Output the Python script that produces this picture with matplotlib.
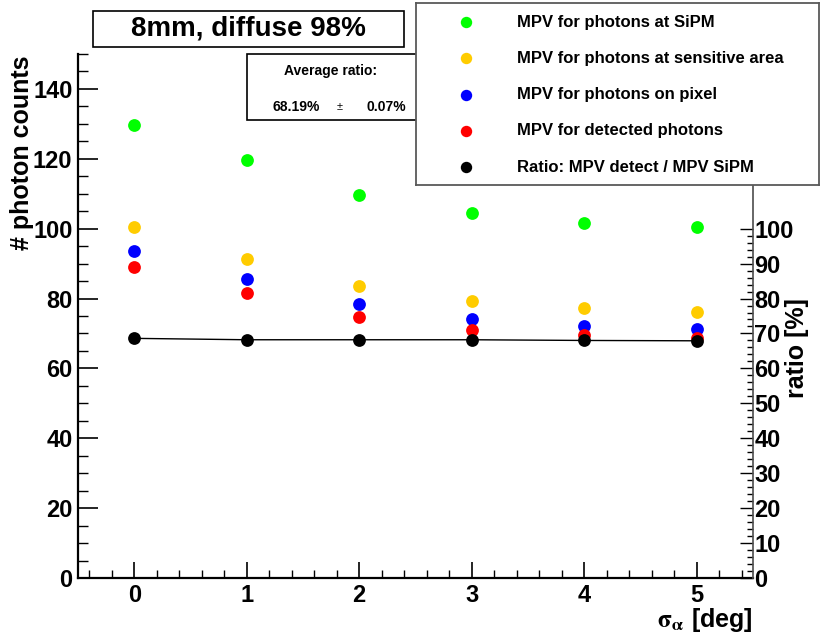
import numpy as np
import matplotlib
matplotlib.use('Agg')
import matplotlib.pyplot as plt
from matplotlib.patches import Rectangle
from matplotlib.ticker import MultipleLocator, FixedLocator

plt.rcParams['font.family'] = ['Liberation Sans', 'DejaVu Sans']
plt.rcParams['font.weight'] = 'bold'
plt.rcParams['mathtext.fontset'] = 'stix'

# data
sigma_alpha = [0, 1, 2, 3, 4, 5]
mpv_sipm = [129.7, 119.6, 109.6, 104.4, 101.7, 100.5]
mpv_sensitive = [100.4, 91.4, 83.7, 79.3, 77.2, 76.2]
mpv_pixel = [93.6, 85.6, 78.4, 74.1, 72.2, 71.3]
mpv_detected = [88.9, 81.6, 74.8, 71.1, 69.5, 68.6]
ratio = [68.6, 68.2, 68.2, 68.2, 68.0, 67.9]

series_labels = ['MPV for photons at SiPM',
                 'MPV for photons at sensitive area',
                 'MPV for photons on pixel',
                 'MPV for detected photons',
                 'Ratio: MPV detect / MPV SiPM']
series_colors = ['#00ff00', '#ffcc00', '#0000ff', '#ff0000', '#000000']

avg_ratio = 68.19
avg_ratio_err = 0.07

W, H = 829, 637


def fx(px):
    return px / W


def fy(py):
    return 1 - py / H


fig = plt.figure(figsize=(W / 100, H / 100), dpi=100)
ax = fig.add_axes([fx(78), fy(578), fx(753) - fx(78), fy(54) - fy(578)])

ms = 9.2
for vals, col in zip([mpv_sipm, mpv_sensitive, mpv_pixel, mpv_detected], series_colors[:4]):
    ax.plot(sigma_alpha, vals, 'o', color=col, markersize=ms, markeredgewidth=0, zorder=3)
ax.plot(sigma_alpha, ratio, '-', color='black', lw=1, zorder=3)
ax.plot(sigma_alpha, ratio, 'o', color='black', markersize=ms, markeredgewidth=0, zorder=4)

ax.set_xlim(-0.5, 5.5)
ax.set_ylim(0, 150)
ax.xaxis.set_major_locator(MultipleLocator(1))
ax.xaxis.set_minor_locator(FixedLocator(np.arange(-0.4, 5.45, 0.2)))
ax.yaxis.set_major_locator(MultipleLocator(20))
ax.yaxis.set_minor_locator(MultipleLocator(5))
ax.tick_params(axis='y', which='major', direction='in', length=14.4, width=1.2,
               labelsize=17, pad=4)
ax.tick_params(axis='y', which='minor', direction='in', length=7.2, width=1)
ax.tick_params(axis='x', which='major', direction='in', length=11.5, width=1.2,
               labelsize=17, pad=4)
ax.tick_params(axis='x', which='minor', direction='in', length=5.5, width=1)
ax.spines['top'].set_visible(False)
ax.spines['right'].set_visible(False)
ax.spines['left'].set_linewidth(1.6)
ax.spines['bottom'].set_linewidth(1.6)

# right axis for the ratio
ax2 = ax.twinx()
ax2.set_ylim(0, 150)
ax2.yaxis.set_major_locator(FixedLocator(np.arange(0, 101, 10)))
ax2.yaxis.set_minor_locator(FixedLocator(np.arange(0, 101, 2)))
ax2.tick_params(axis='y', which='major', direction='in', length=9.4, width=1,
                labelsize=17, pad=1)
ax2.tick_params(axis='y', which='minor', direction='in', length=4.3, width=1)
for s in ['top', 'left', 'bottom']:
    ax2.spines[s].set_visible(False)
ax2.spines['right'].set_color('0.3')
ax2.spines['right'].set_linewidth(1.2)

fig.text(fx(22), fy(55), '# photon counts', rotation=90, ha='center', va='top',
         fontsize=18, fontweight='bold')
fig.text(fx(797), fy(348), 'ratio [%]', rotation=90, ha='center', va='center',
         fontsize=18, fontweight='bold')
fig.text(fx(753), fy(634), r'$\mathrm{\sigma_{\alpha}}$ [deg]', ha='right', va='bottom',
         fontsize=18, fontweight='bold')

# title box
fig.add_artist(Rectangle((fx(93), fy(47)), fx(404) - fx(93), fy(11) - fy(47),
                         transform=fig.transFigure, facecolor='white',
                         edgecolor='black', lw=1.2, zorder=5))
fig.text(fx(248.5), fy(29), '8mm, diffuse 98%', ha='center', va='center',
         fontsize=20, fontweight='bold', zorder=6)

# average ratio box
fig.add_artist(Rectangle((fx(247), fy(120)), fx(430) - fx(247), fy(54) - fy(120),
                         transform=fig.transFigure, facecolor='white',
                         edgecolor='black', lw=1.2, zorder=5))
fig.text(fx(331), fy(71), 'Average ratio:', ha='center', va='center',
         fontsize=10, fontweight='bold', zorder=6)
fig.text(fx(296), fy(107), f'{avg_ratio:.2f}%', ha='center', va='center',
         fontsize=10, fontweight='bold', zorder=6)
fig.text(fx(340), fy(107), '\u00b1', ha='center', va='center',
         fontsize=8, fontweight='normal', zorder=6)
fig.text(fx(386), fy(107), f'{avg_ratio_err:.2f}%', ha='center', va='center',
         fontsize=10, fontweight='bold', zorder=6)

# legend box
leg = fig.add_axes([fx(416), fy(185), fx(819) - fx(416), fy(3) - fy(185)])
leg.set_zorder(10)
leg.set_xlim(416, 819)
leg.set_ylim(185, 3)
leg.set_xticks([])
leg.set_yticks([])
for s in leg.spines.values():
    s.set_color('0.35')
    s.set_linewidth(1.3)
entry_y = [22, 58, 95, 131, 167]
for yy, lab, col in zip(entry_y, series_labels, series_colors):
    leg.plot([466], [yy], 'o', color=col, markersize=8.2, markeredgewidth=0)
    leg.text(517, yy, lab, ha='left', va='center', fontsize=12, fontweight='bold')

fig.savefig('out.png', dpi=100)
